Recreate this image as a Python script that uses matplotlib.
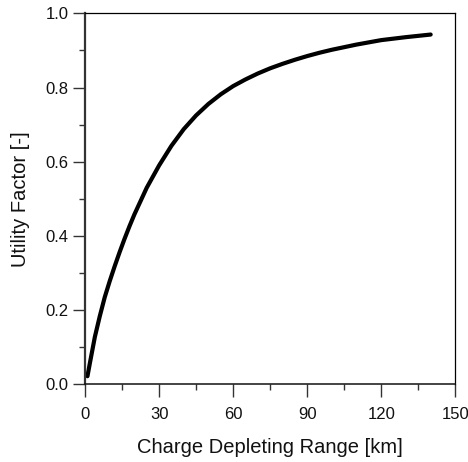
import matplotlib
matplotlib.use("Agg")
import matplotlib.pyplot as plt
from matplotlib.ticker import MultipleLocator

range_km = [1, 2, 4, 6, 8, 10, 12, 14, 16, 18, 20, 25, 30, 35, 40, 45, 50, 55, 60,
            65, 70, 75, 80, 85, 90, 95, 100, 110, 120, 130, 140]
utility = [0.022, 0.058, 0.128, 0.184, 0.235, 0.278, 0.318, 0.356, 0.392, 0.426,
           0.458, 0.530, 0.590, 0.643, 0.688, 0.725, 0.756, 0.782, 0.804, 0.822,
           0.838, 0.852, 0.864, 0.875, 0.885, 0.894, 0.902, 0.916, 0.928, 0.936,
           0.943]

x_ticks = [0, 30, 60, 90, 120, 150]
y_ticks = [0.0, 0.2, 0.4, 0.6, 0.8, 1.0]

plt.rcParams['font.family'] = ['Liberation Sans', 'DejaVu Sans']

fig = plt.figure(figsize=(4.68, 4.62), dpi=100)
ax = fig.add_axes([0.1816, 0.168, 0.7914, 0.803])
ax.plot(range_km, utility, color='black', lw=3.0, solid_capstyle='round',
        solid_joinstyle='round')

ax.set_xlim(0, 150)
ax.set_ylim(0, 1.0)
ax.set_xticks(x_ticks)
ax.set_yticks(y_ticks)
ax.set_xticklabels([str(t) for t in x_ticks])
ax.set_yticklabels([f"{t:.1f}" for t in y_ticks])
ax.xaxis.set_minor_locator(MultipleLocator(15))
ax.yaxis.set_minor_locator(MultipleLocator(0.1))

ax.tick_params(which='major', direction='out', length=9, width=1.0, color='#333333',
               labelsize=12, labelcolor='#111111')
ax.tick_params(axis='x', which='major', pad=7)
ax.tick_params(axis='y', which='major', pad=3)
ax.tick_params(which='minor', direction='out', length=4.5, width=1.0, color='#333333')

for s in ['top', 'right']:
    ax.spines[s].set_linewidth(0.9)
    ax.spines[s].set_color('black')
ax.spines['left'].set_linewidth(1.6)
ax.spines['left'].set_color('#333333')
ax.spines['bottom'].set_linewidth(1.1)
ax.spines['bottom'].set_color('#111111')

ax.set_xlabel('Charge Depleting Range [km]', fontsize=14.5, labelpad=12, color='#111111')
ax.set_ylabel('Utility Factor [-]', fontsize=14.5, labelpad=11, color='#111111')

fig.savefig('out.png', dpi=100)
